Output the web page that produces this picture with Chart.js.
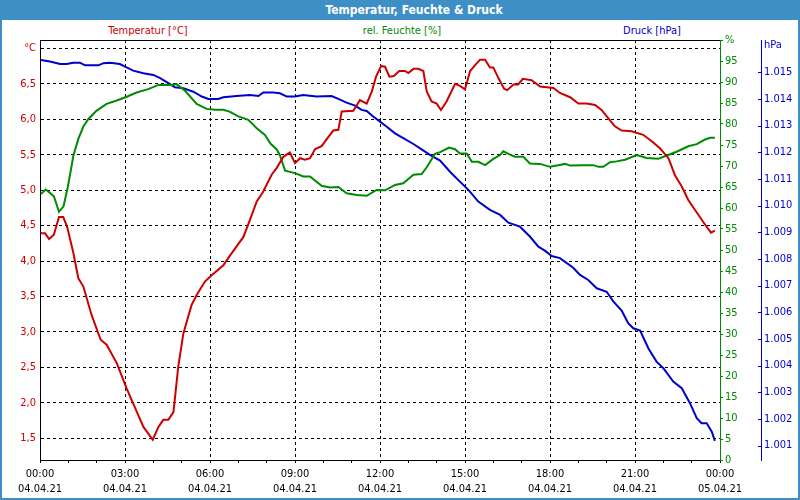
<!DOCTYPE html>
<html>
<head>
<meta charset="utf-8">
<script src="https://cdn.jsdelivr.net/npm/chart.js@4.4.0/dist/chart.umd.min.js"></script>
<style>
	body { margin: 0; background: #fff; }
	#frame {
		position: relative; width: 800px; height: 500px; box-sizing: border-box;
		border: 2px solid #3d8fc6; border-top: none; background: #fff;
		font-family: 'DejaVu Sans Condensed', 'Liberation Sans', sans-serif;
	}
	#titlebar {
		position: absolute; left: -2px; top: 0; width: 800px; height: 20px;
		background: #3d8fc6; color: #fff; font-weight: bold; font-size: 12px;
		line-height: 20px; text-align: center; box-sizing: border-box; padding-left: 28px;
	}
	.series { position: absolute; top: 24px; font-size: 11px; white-space: nowrap; transform: translateX(-50%); }
	#chart { position: absolute; left: -2px; top: 0; }
</style>
</head>
<body>
<div id="frame">
	<div id="titlebar">Temperatur, Feuchte &amp; Druck</div>
	<span class="series" style="left:146px;color:#cc0000">Temperatur [°C]</span>
	<span class="series" style="left:400px;color:#008a00">rel. Feuchte [%]</span>
	<span class="series" style="left:650px;color:#0000cc">Druck [hPa]</span>
	<canvas id="chart" width="800" height="500"></canvas>
</div>
<script>
/*
 * Daten (Stunden seit 04.04.21 00:00)
 */
const tempHours = [0.03, 0.18, 0.32, 0.49, 0.67, 0.82, 0.96, 1.18, 1.35, 1.53, 1.82, 2.14, 2.35, 2.71, 3.06, 3.65, 3.98, 4.18, 4.35, 4.53, 4.71, 4.88, 5.06, 5.35, 5.53, 5.82, 6.06, 6.47, 6.71, 7.18, 7.41, 7.65, 7.88, 8.18, 8.35, 8.59, 8.82, 9.0, 9.18, 9.35, 9.53, 9.71, 9.94, 10.18, 10.35, 10.53, 10.65, 11.06, 11.29, 11.53, 11.71, 11.86, 12.04, 12.18, 12.33, 12.49, 12.68, 12.88, 13.0, 13.18, 13.35, 13.53, 13.65, 13.82, 14.0, 14.15, 14.35, 14.65, 14.82, 15.0, 15.18, 15.35, 15.53, 15.71, 15.88, 16.0, 16.18, 16.38, 16.49, 16.71, 16.88, 17.04, 17.35, 17.65, 18.12, 18.35, 18.71, 19.0, 19.29, 19.59, 19.82, 20.06, 20.29, 20.53, 20.88, 21.29, 21.59, 21.88, 22.18, 22.41, 22.65, 22.88, 23.12, 23.41, 23.68, 23.82];
const tempValues = [4.39, 4.39, 4.31, 4.37, 4.62, 4.62, 4.48, 4.11, 3.76, 3.64, 3.24, 2.89, 2.82, 2.56, 2.20, 1.66, 1.48, 1.66, 1.76, 1.76, 1.87, 2.51, 2.98, 3.38, 3.52, 3.71, 3.80, 3.94, 4.08, 4.34, 4.58, 4.84, 4.98, 5.22, 5.31, 5.47, 5.53, 5.38, 5.45, 5.43, 5.45, 5.58, 5.62, 5.75, 5.84, 5.85, 6.11, 6.12, 6.27, 6.22, 6.39, 6.60, 6.75, 6.74, 6.60, 6.61, 6.68, 6.68, 6.65, 6.71, 6.71, 6.68, 6.39, 6.25, 6.22, 6.13, 6.25, 6.50, 6.47, 6.42, 6.68, 6.76, 6.84, 6.84, 6.73, 6.73, 6.58, 6.43, 6.41, 6.49, 6.49, 6.57, 6.55, 6.46, 6.44, 6.37, 6.31, 6.22, 6.22, 6.20, 6.13, 6.01, 5.90, 5.84, 5.83, 5.78, 5.69, 5.59, 5.45, 5.21, 5.05, 4.86, 4.72, 4.55, 4.40, 4.43];

const humHours = [0.03, 0.2, 0.35, 0.49, 0.67, 0.83, 0.98, 1.18, 1.35, 1.53, 1.71, 2.0, 2.35, 2.71, 3.06, 3.41, 3.82, 4.18, 4.65, 4.82, 5.12, 5.53, 5.88, 6.18, 6.47, 6.71, 7.0, 7.35, 7.65, 7.94, 8.14, 8.35, 8.47, 8.65, 9.0, 9.29, 9.53, 9.94, 10.24, 10.53, 10.82, 11.18, 11.53, 11.88, 12.18, 12.53, 12.82, 13.18, 13.47, 13.65, 13.94, 14.12, 14.44, 14.65, 14.82, 15.06, 15.24, 15.47, 15.71, 16.0, 16.24, 16.35, 16.59, 16.76, 17.06, 17.29, 17.65, 18.0, 18.29, 18.53, 18.71, 19.18, 19.53, 19.71, 19.88, 20.12, 20.35, 20.65, 21.06, 21.41, 21.82, 22.12, 22.47, 22.88, 23.18, 23.47, 23.65, 23.82];
const humValues = [63.3, 64.4, 63.6, 62.8, 59.1, 60.4, 64.9, 72.5, 76.4, 79.4, 81.2, 83.2, 84.8, 85.6, 86.5, 87.5, 88.3, 89.3, 89.3, 89.5, 87.9, 84.8, 83.6, 83.4, 83.4, 82.9, 81.8, 81.0, 79.0, 77.4, 75.3, 74.0, 72.5, 68.9, 68.3, 67.5, 67.5, 65.3, 64.9, 65.0, 63.5, 63.1, 62.9, 64.3, 64.2, 65.5, 65.9, 67.9, 68.1, 69.7, 72.9, 73.3, 74.4, 74.0, 73.0, 73.0, 71.0, 71.0, 70.2, 71.7, 72.6, 73.5, 72.7, 72.2, 72.2, 70.6, 70.5, 69.8, 70.2, 70.5, 70.1, 70.2, 70.2, 69.8, 69.8, 70.9, 71.1, 71.5, 72.6, 71.9, 71.7, 72.5, 73.4, 74.7, 75.2, 76.3, 76.7, 76.7];

const presHours = [0.03, 0.35, 0.71, 0.94, 1.18, 1.41, 1.59, 2.06, 2.24, 2.47, 2.82, 3.0, 3.29, 3.65, 4.0, 4.24, 4.53, 4.76, 5.06, 5.41, 5.71, 5.94, 6.29, 6.47, 6.94, 7.41, 7.71, 7.88, 8.24, 8.47, 8.71, 9.0, 9.29, 9.76, 10.29, 10.53, 10.82, 11.12, 11.35, 11.53, 11.76, 12.0, 12.24, 12.53, 12.82, 13.18, 13.47, 13.76, 14.12, 14.47, 14.82, 15.12, 15.47, 15.88, 16.24, 16.53, 16.94, 17.29, 17.59, 17.82, 18.06, 18.35, 18.82, 19.06, 19.35, 19.65, 20.0, 20.24, 20.53, 20.76, 20.94, 21.18, 21.47, 21.76, 22.0, 22.35, 22.65, 22.94, 23.18, 23.35, 23.53, 23.71, 23.82];
const presValues = [1015.46, 1015.40, 1015.31, 1015.31, 1015.36, 1015.36, 1015.26, 1015.26, 1015.34, 1015.36, 1015.31, 1015.21, 1015.06, 1014.96, 1014.90, 1014.78, 1014.59, 1014.44, 1014.40, 1014.27, 1014.09, 1014.00, 1014.00, 1014.06, 1014.11, 1014.15, 1014.11, 1014.24, 1014.24, 1014.21, 1014.09, 1014.09, 1014.15, 1014.09, 1014.11, 1014.00, 1013.86, 1013.75, 1013.59, 1013.55, 1013.34, 1013.15, 1012.96, 1012.71, 1012.53, 1012.31, 1012.11, 1011.90, 1011.69, 1011.27, 1010.90, 1010.59, 1010.15, 1009.84, 1009.65, 1009.36, 1009.21, 1008.84, 1008.46, 1008.31, 1008.11, 1008.03, 1007.67, 1007.40, 1007.21, 1006.90, 1006.77, 1006.40, 1006.06, 1005.59, 1005.40, 1005.31, 1004.65, 1004.15, 1003.90, 1003.40, 1003.15, 1002.59, 1002.03, 1001.84, 1001.84, 1001.52, 1001.18];

// Achsen-Ticks
const hourTicks = [0, 1, 2, 3, 4, 5, 6, 7, 8, 9, 10, 11, 12, 13, 14, 15, 16, 17, 18, 19, 20, 21, 22, 23, 24];
const timeLabels = ['00:00', '03:00', '06:00', '09:00', '12:00', '15:00', '18:00', '21:00', '00:00'];
const dateLabels = ['04.04.21', '04.04.21', '04.04.21', '04.04.21', '04.04.21', '04.04.21', '04.04.21', '04.04.21', '05.04.21'];
const tempTicks = [1.5, 2.0, 2.5, 3.0, 3.5, 4.0, 4.5, 5.0, 5.5, 6.0, 6.5, 7.0];
const humTicks = [0, 5, 10, 15, 20, 25, 30, 35, 40, 45, 50, 55, 60, 65, 70, 75, 80, 85, 90, 95, 100];
const presTicks = [1001, 1002, 1003, 1004, 1005, 1006, 1007, 1008, 1009, 1010, 1011, 1012, 1013, 1014, 1015, 1016];

const RED = '#cc0000';
const GREEN = '#008a00';
const BLUE = '#0000cc';
const FONT = { family: "'DejaVu Sans Condensed', 'Liberation Sans', sans-serif", size: 11 };

const toPoints = (xs, ys) => xs.map((x, i) => ({ x: x, y: ys[i] }));

// Rahmen oben + kleine Ticks links an der Druck-Achse
const framePlugin = {
	id: 'framePlugin',
	afterDraw(chart) {
		const ctx = chart.ctx;
		const area = chart.chartArea;
		ctx.save();
		ctx.strokeStyle = '#000';
		ctx.lineWidth = 1;
		ctx.beginPath();
		ctx.moveTo(area.left, Math.round(area.top) + 0.5);
		ctx.lineTo(area.right, Math.round(area.top) + 0.5);
		ctx.stroke();

		const p = chart.scales.yP;
		ctx.strokeStyle = BLUE;
		ctx.beginPath();
		for (let i = 0; i < presTicks.length - 1; i++) {
			const y = Math.round(p.getPixelForValue(presTicks[i])) + 0.5;
			ctx.moveTo(p.left - 3, y);
			ctx.lineTo(p.left, y);
		}
		ctx.stroke();
		ctx.restore();
	}
};

new Chart(document.getElementById('chart'), {
	type: 'line',
	data: {
		datasets: [{
			label: 'Temperatur [°C]',
			data: toPoints(tempHours, tempValues),
			yAxisID: 'yT',
			borderColor: RED,
			borderWidth: 2,
			pointRadius: 0,
			tension: 0,
			fill: false
		}, {
			label: 'rel. Feuchte [%]',
			data: toPoints(humHours, humValues),
			yAxisID: 'yH',
			borderColor: GREEN,
			borderWidth: 2,
			pointRadius: 0,
			tension: 0,
			fill: false
		}, {
			label: 'Druck [hPa]',
			data: toPoints(presHours, presValues),
			yAxisID: 'yP',
			borderColor: BLUE,
			borderWidth: 2,
			pointRadius: 0,
			tension: 0,
			fill: false
		}]
	},
	options: {
		responsive: false,
		animation: false,
		layout: { padding: { top: 40, left: 0, right: 0, bottom: 0 } },
		plugins: {
			legend: { display: false },
			tooltip: { enabled: false },
			title: { display: false }
		},
		scales: {
			x: {
				type: 'linear',
				min: 0,
				max: 24,
				afterBuildTicks: s => { s.ticks = hourTicks.map(v => ({ value: v })); },
				afterFit: s => { s.height = 40; },
				ticks: {
					autoSkip: false,
					maxRotation: 0,
					padding: 3,
					color: '#000',
					font: Object.assign({ lineHeight: 1.4 }, FONT),
					callback: v => v % 3 === 0 ? [timeLabels[v / 3], dateLabels[v / 3]] : ''
				},
				grid: {
					color: c => (c.tick && c.tick.value % 3 === 0 && c.tick.value > 0 && c.tick.value < 24) ? '#000' : 'rgba(0,0,0,0)',
					tickColor: '#000',
					tickLength: 3,
					lineWidth: 1
				},
				border: { color: '#000', dash: [3, 3] }
			},
			yT: {
				position: 'left',
				min: 1.194,
				max: 7.117,
				afterBuildTicks: s => { s.ticks = tempTicks.map(v => ({ value: v })); },
				afterFit: s => { s.width = 40; },
				ticks: {
					autoSkip: false,
					padding: 4,
					color: RED,
					font: FONT,
					callback: v => v === 7 ? '°C' : v.toFixed(1).replace('.', ',')
				},
				grid: { color: '#000', drawTicks: false, lineWidth: 1 },
				border: { color: '#000', dash: [3, 3] }
			},
			yH: {
				position: 'right',
				weight: 0,
				min: 0,
				max: 100,
				afterBuildTicks: s => { s.ticks = humTicks.map(v => ({ value: v })); },
				afterFit: s => { s.width = 41; },
				ticks: {
					autoSkip: false,
					padding: 2,
					color: GREEN,
					font: FONT,
					callback: v => v === 100 ? '%' : String(v)
				},
				grid: { drawOnChartArea: false, tickColor: GREEN, tickLength: 3 },
				border: { color: GREEN }
			},
			yP: {
				position: 'right',
				weight: 1,
				min: 1000.46,
				max: 1016.21,
				afterBuildTicks: s => { s.ticks = presTicks.map(v => ({ value: v })); },
				afterFit: s => { s.width = 39; },
				ticks: {
					autoSkip: false,
					padding: 3,
					color: BLUE,
					font: FONT,
					callback: v => v === 1016 ? 'hPa' : '1.' + String(v).slice(1)
				},
				grid: { drawOnChartArea: false, drawTicks: false },
				border: { color: BLUE }
			}
		}
	},
	plugins: [framePlugin]
});
</script>
</body>
</html>
